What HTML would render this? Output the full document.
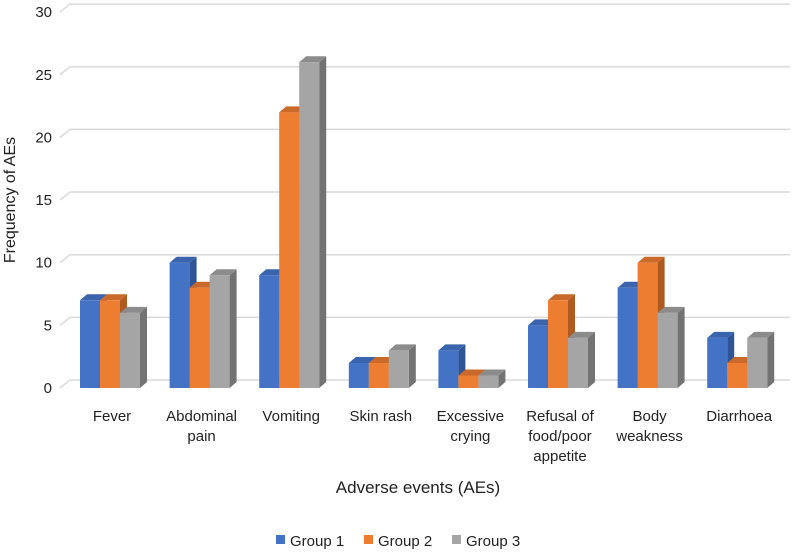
<!DOCTYPE html>
<html><head><meta charset="utf-8"><style>
body{margin:0;background:#fff;width:797px;height:552px;overflow:hidden}
svg{font-family:"Liberation Sans",sans-serif}
</style></head><body>
<svg id="chart" width="797" height="552" xmlns="http://www.w3.org/2000/svg">
<g id="grid"></g><g id="bars"></g><g id="labels"></g>
<text transform="translate(15,200) rotate(-90)" text-anchor="middle" font-size="16" fill="#222">Frequency of AEs</text>
<text x="418" y="493" text-anchor="middle" font-size="17" fill="#222">Adverse events (AEs)</text>
<g font-size="15" fill="#222">
<rect x="276" y="535" width="9" height="9" fill="#4472c4"/><text x="290" y="546">Group 1</text>
<rect x="364" y="535" width="9" height="9" fill="#ed7d31"/><text x="378" y="546">Group 2</text>
<rect x="452" y="535" width="9" height="9" fill="#a5a5a5"/><text x="466" y="546">Group 3</text>
</g>
</svg>
<script>
const categories=[["Fever"],["Abdominal","pain"],["Vomiting"],["Skin rash"],["Excessive","crying"],["Refusal of","food/poor","appetite"],["Body","weakness"],["Diarrhoea"]];
const group1=[7,10,9,2,3,5,8,4];
const group2=[7,8,22,2,1,7,10,2];
const group3=[6,9,26,3,1,4,6,4];
const yTicks=[0,5,10,15,20,25,30];
const NS="http://www.w3.org/2000/svg";
const front0=388, unit=12.53, dx=7, dy=-6;
function y(v){return front0-v*unit;}
function xCat(i){return 80+i*89.6;}
function mk(t,a,p){const e=document.createElementNS(NS,t);for(const k in a)e.setAttribute(k,a[k]);p.appendChild(e);return e;}
const grid=document.getElementById('grid'),bars=document.getElementById('bars'),labels=document.getElementById('labels');
yTicks.forEach(v=>{
  const yy=y(v);
  const l=mk('polyline',{points:`60,${yy} ${60+dx+3},${yy+dy-2} 790,${yy+dy-2}`,fill:'none',stroke:'#d9d9d9','stroke-width':1.5},grid);
  
  
  const t=mk('text',{x:52,y:yy+5,'text-anchor':'end','font-size':15,fill:'#222'},labels);
  t.textContent=v;
  
  
});
const series=[[group1,'#4472c4','#2f5597','#3a64ad'],[group2,'#ed7d31','#ae5a21','#c9692a'],[group3,'#a5a5a5','#737373','#8c8c8c']];
categories.forEach((c,i)=>{
  series.forEach((s,j)=>{
    const v=s[0][i],x0=xCat(i)+j*20,w=20,top=y(v);
    const g=mk('g',{},bars);
    
    
    mk('polygon',{points:`${x0+w},${top} ${x0+w+dx},${top+dy} ${x0+w+dx},${front0+dy} ${x0+w},${front0}`,fill:s[2]},g);
    mk('polygon',{points:`${x0},${top} ${x0+dx},${top+dy} ${x0+w+dx},${top+dy} ${x0+w},${top}`,fill:s[3]},g);
    mk('rect',{x:x0,y:top,width:w,height:front0-top,fill:s[1]},g);
  });
  c.forEach((line,k)=>{
    const t=mk('text',{x:xCat(i)+32,y:421+k*20,'text-anchor':'middle','font-size':15,fill:'#222'},labels);
    t.textContent=line;
    
    
  });
});
</script>
</body></html>
